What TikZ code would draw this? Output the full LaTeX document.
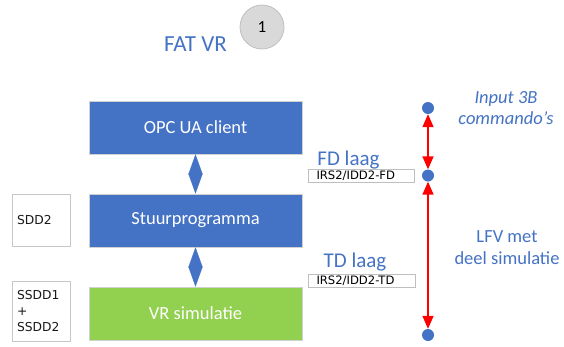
\documentclass[tikz,border=0pt]{standalone}
\usepackage{fontspec}
\setmainfont{Carlito}
\newfontfamily\tagfont{DejaVu Sans}
\usetikzlibrary{arrows.meta}
\definecolor{accent}{HTML}{4472C4}
\definecolor{simgreen}{HTML}{92D050}
\definecolor{linkred}{HTML}{FF0000}
\definecolor{badgegray}{HTML}{D9D9D9}
\begin{document}
\begin{tikzpicture}[x=1pt,y=-1pt,
  layer/.style={rectangle, draw=black!18, line width=0.8pt, minimum width=213pt,
    minimum height=53pt, inner sep=0pt, text=white,
    font=\fontsize{18.5}{22}\selectfont},
  docbox/.style={rectangle, draw=black!22, line width=0.8pt, fill=white,
    minimum width=58pt, inner xsep=5pt, inner ysep=0pt, text width=48pt,
    align=left, font=\tagfont\fontsize{12.3}{16}\selectfont, text=black!90},
  tagbox/.style={rectangle, draw=black!25, line width=0.7pt, fill=white,
    minimum height=13pt, inner xsep=8.5pt, inner ysep=0pt, align=left,
    font=\tagfont\fontsize{11.6}{12}\selectfont, text=black},
  caption/.style={anchor=base, text=accent, inner sep=0pt},
  dot/.style={circle, fill=accent, minimum size=12pt, inner sep=0pt},
  linkarrow/.style={draw=linkred, line width=1.6pt,
    {Triangle[width=11pt,length=13pt]}-{Triangle[width=11pt,length=13pt]}},
  flow/.style={draw=accent, fill=accent, line width=0.2pt,
    {Triangle[width=14pt,length=19.5pt]}-{Triangle[width=14pt,length=19.5pt]}}
]
\useasboundingbox (0,0) rectangle (564,346);

% title and badge
\node[caption, font=\fontsize{23}{26}\selectfont] (title) at (195.5,51) {FAT VR};
\node[circle, fill=badgegray, draw=black!25, line width=0.8pt, minimum size=44pt,
  inner sep=0pt, font=\fontsize{17}{20}\selectfont] (badge) at (262,27) {1};

% software layers
\node[layer, fill=accent] (opc) at (195.5,127.5) {OPC UA client};
\node[layer, fill=accent] (stuur) at (195.5,220.5) {Stuurprogramma};
\node[layer, fill=simgreen] (vrsim) at (195.5,313.5) {VR simulatie};

\draw[flow] (opc.south) -- (stuur.north);
\draw[flow] (stuur.south) -- (vrsim.north);

% documents per layer
\node[docbox, minimum height=52pt] (sdd) at (41,220) {SDD2};
\node[docbox, minimum height=60pt] (ssdd) at (41,311) {SSDD1\\+\\SSDD2};

% interface layers
\node[caption, font=\fontsize{21}{24}\selectfont] (fdlabel) at (348.5,165) {FD laag};
\node[tagbox, text width=89pt] (fdtag) at (361,175.5) {IRS2/IDD2-FD};
\node[caption, font=\fontsize{21}{24}\selectfont] (tdlabel) at (355,267) {TD laag};
\node[tagbox, text width=90pt] (tdtag) at (361.5,280.5) {IRS2/IDD2-TD};

% test scope markers
\node[dot] (ptop) at (428,108) {};
\node[dot] (pmid) at (428,175.5) {};
\node[dot] (pbot) at (428,335) {};
\draw[linkarrow] (ptop) -- (pmid);
\draw[linkarrow] (pmid) -- (pbot);

\node[caption, align=center, font=\itshape\fontsize{18.5}{21}\selectfont]
  (inputnote) at (506,124) {Input 3B\\commando’s};
\node[caption, align=center, font=\fontsize{18.5}{22}\selectfont]
  (lfvnote) at (507,264) {LFV met\\deel simulatie};
\end{tikzpicture}
\end{document}
